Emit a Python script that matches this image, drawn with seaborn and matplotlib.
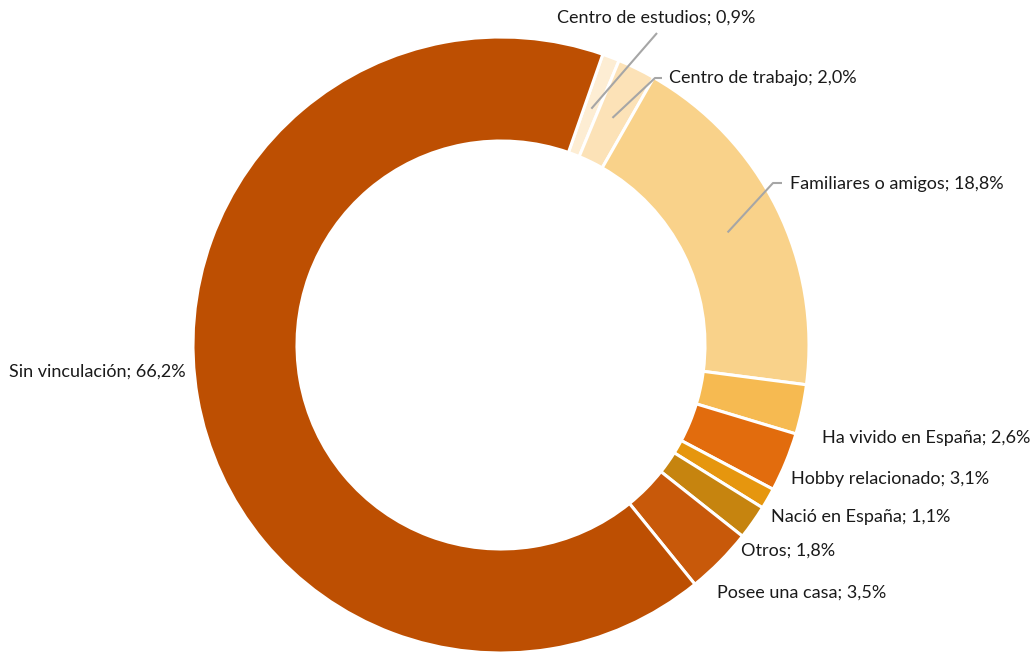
import numpy as np
import matplotlib
matplotlib.use("Agg")
import matplotlib.pyplot as plt
import seaborn as sns

# Motivo de vinculación con España (porcentaje)
categories = ["Centro de estudios", "Centro de trabajo", "Familiares o amigos",
              "Ha vivido en España", "Hobby relacionado", "Nació en España",
              "Otros", "Posee una casa", "Sin vinculación"]
values = [0.9, 2.0, 18.8, 2.6, 3.1, 1.1, 1.8, 3.5, 66.2]
colors = ["#FDEDD3", "#FCE2B7", "#F9D28A", "#F6BA51", "#E26C0D",
          "#E6960E", "#C6840F", "#C8590A", "#BD4F02"]

sns.set_theme(style="white")
plt.rcParams["font.family"] = ["Lato", "DejaVu Sans"]

W, H = 1035, 652
fig = plt.figure(figsize=(W / 100, H / 100), dpi=100)
ax = fig.add_axes([0, 0, 1, 1])

cx, cy = 501, H - 345
r_out, r_in = 308, 204
start = 70.7

ax.pie(values, colors=colors, startangle=start, counterclock=False,
       radius=r_out, center=(cx, cy),
       wedgeprops=dict(width=r_out - r_in, edgecolor="white", linewidth=2.2))
ax.set_xlim(0, W)
ax.set_ylim(0, H)
ax.set_aspect("equal")
ax.axis("off")

# label anchor (left edge x, centre y in pixels from the top) and optional leader elbow
label_pos = {
    "Centro de estudios": (557, 18, (657, 33), None),
    "Centro de trabajo": (669, 78, (655, 78), (662, 78)),
    "Familiares o amigos": (790, 184, (773, 183), (782, 183)),
    "Ha vivido en España": (822, 438, None, None),
    "Hobby relacionado": (791, 479, None, None),
    "Nació en España": (771, 517, None, None),
    "Otros": (741, 551, None, None),
    "Posee una casa": (717, 593, None, None),
    "Sin vinculación": (9, 372, None, None),
}

cum = np.cumsum([0] + values[:-1])
r_mid = (r_out + r_in) / 2 - 3
for cat, v, c0 in zip(categories, values, cum):
    lx, ly, elbow, tail = label_pos[cat]
    txt = f"{cat}; {v:.1f}%".replace(".", ",")
    ax.text(lx, H - ly, txt, ha="left", va="center", fontsize=13, color="#1a1a1a")
    if elbow is not None:
        ang = np.deg2rad(start - (c0 + v / 2) * 3.6)
        x0, y0 = cx + r_mid * np.cos(ang), cy + r_mid * np.sin(ang)
        xs = [x0, elbow[0]]
        ys = [y0, H - elbow[1]]
        if tail is not None:
            xs.append(tail[0])
            ys.append(H - tail[1])
        ax.plot(xs, ys, color="#A6A6A6", linewidth=1.5, solid_capstyle="butt")

fig.savefig("out.png", dpi=100, facecolor="white")
